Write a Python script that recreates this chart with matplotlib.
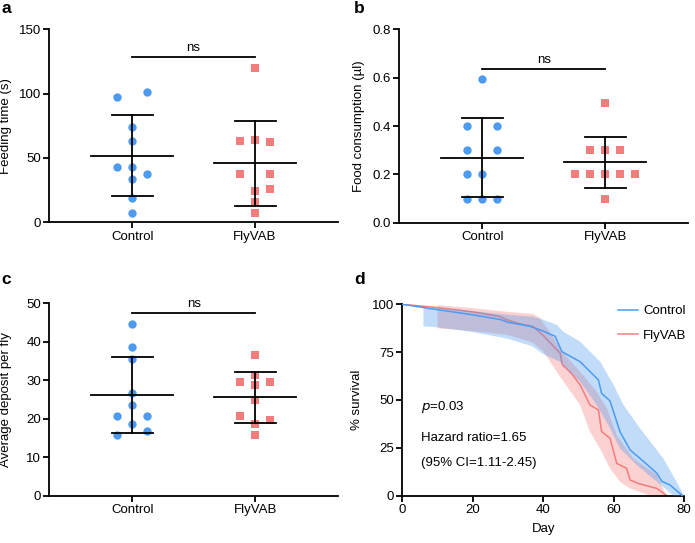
import numpy as np
import matplotlib
matplotlib.use("Agg")
import matplotlib.pyplot as plt
from matplotlib.lines import Line2D

plt.rcParams['font.family'] = ['Liberation Sans', 'DejaVu Sans']
FS = 9.5
plt.rcParams['font.size'] = FS

# ---------------- data ----------------
groups = ["Control", "FlyVAB"]

# panel a: feeding time (s)
a_ctrl = [101, 97.2, 73.8, 63.2, 42.7, 42.7, 37.6, 33.4, 18.7, 7.0]
a_ctrl_slot = [1, -1, 0, 0, -1, 0, 1, 0, 0, 0]
a_fly = [119.7, 64, 63.2, 62.2, 37.6, 37.6, 25.6, 24.6, 15.8, 7.0]
a_fly_slot = [0, 0, -1, 1, -1, 1, 1, 0, 0, 0]
a_ticks = [0, 50, 100, 150]
a_ns = 128.7

# panel b: food consumption (ul)
b_ctrl = [0.593, 0.4, 0.4, 0.3, 0.3, 0.2, 0.2, 0.1, 0.1, 0.1]
b_ctrl_slot = [0, -1, 1, -1, 1, -1, 0, -1, 0, 1]
b_fly = [0.494, 0.3, 0.3, 0.3, 0.2, 0.2, 0.2, 0.2, 0.2, 0.1]
b_fly_slot = [0, -1, 0, 1, -2, -1, 0, 1, 2, 0]
b_ticks = [0.0, 0.2, 0.4, 0.6, 0.8]
b_ns = 0.635

# panel c: average deposit per fly
c_ctrl = [44.6, 38.6, 35.6, 26.6, 23.7, 20.8, 20.8, 18.8, 15.8, 16.8]
c_ctrl_slot = [0, 0, 0, 0, 0, -1, 1, 0, -1, 1]
c_fly = [36.5, 31.5, 29.6, 29.6, 28.7, 24.8, 20.7, 19.8, 18.8, 15.8]
c_fly_slot = [0, 0, -1, 1, 0, 0, -1, 1, 0, 0]
c_ticks = [0, 10, 20, 30, 40, 50]
c_ns = 47.4

# panel d: survival curves
ctrl_day = [0, 6, 10, 20, 28, 30, 36.3, 40, 43.4, 45.3, 50.5, 55.7, 56.6, 59, 61.8, 64.7, 70, 72.3, 73.7, 76, 79.6]
ctrl_surv = [100, 98.3, 97.2, 94.5, 92, 90.6, 88.5, 86, 83.3, 75.3, 70, 60.5, 53.5, 49.5, 33.5, 23.9, 15.5, 11.7, 7.5, 5.6, 0]
fly_day = [0, 10, 20, 27.8, 29.7, 33, 37.2, 40.1, 43.5, 44.8, 45.5, 48, 50.5, 53.3, 55.7, 56.6, 59, 60.9, 63.7, 64.7, 67, 72.3, 75.1]
fly_surv = [100, 98.3, 96, 93.6, 91.9, 90, 88.3, 83.5, 77, 74.5, 68.3, 64, 57.9, 47.4, 44.8, 33.5, 30, 16.9, 14.3, 8.2, 6.4, 3.8, 0]

ctrl_up_day = [6, 10, 20, 30, 37, 40, 43.9, 45.7, 50.5, 52.4, 56.2, 60, 62.8, 67.5, 74.1, 77.9, 80]
ctrl_up = [98.5, 98, 96.5, 94.5, 93.5, 92, 89.2, 85.7, 80.5, 77, 70, 57.9, 47.4, 35.2, 19.5, 7.3, 0]
ctrl_lo_day = [6, 10, 20, 30, 37, 40, 44.8, 50.5, 55.2, 59, 61.8, 66.6, 72.3, 77]
ctrl_lo = [88.5, 88, 85.5, 82, 78, 74, 70, 59.6, 47.4, 35.2, 24.8, 16, 7.3, 0]

fly_up_day = [10, 20, 30, 37, 39, 41, 45.3, 50.5, 55.2, 58.1, 60.9, 65.6, 72.3, 75]
fly_up = [99.5, 98, 96, 95, 93, 88, 75.3, 64.8, 54.4, 45.7, 31.7, 19.5, 10.8, 0]
fly_lo_day = [10, 20, 30, 37, 40.1, 44.8, 50.5, 53.3, 56.1, 59, 61.8, 64.7, 70.4]
fly_lo = [87.5, 86, 84, 80, 75.3, 62.2, 47.4, 33.5, 24.8, 14.3, 7.3, 3.8, 0]

d_xticks = [0, 20, 40, 60, 80]
d_yticks = [0, 25, 50, 75, 100]

# ---------------- style ----------------
BLUE = "#4C9BF0"
RED = "#F47C7C"
W, H = 695, 543
LW = 1.3
SLOT = 0.122

fig = plt.figure(figsize=(W / 100, H / 100), dpi=100)


def rect(l, t, r, b):
    return [l / W, 1 - b / H, (r - l) / W, (b - t) / H]


def style(ax):
    for s in ("top", "right"):
        ax.spines[s].set_visible(False)
    for s in ("left", "bottom"):
        ax.spines[s].set_linewidth(LW)
    ax.tick_params(width=LW, length=4, labelsize=FS, pad=2)


def dot_panel(ax, ctrl, cslot, fly, fslot, ticks, ns_y, ylabel, fmt, lab_x):
    style(ax)
    xc = 0 + SLOT * np.array(cslot)
    xf = 1 + SLOT * np.array(fslot)
    ax.scatter(xc, ctrl, s=36, marker="o", color=BLUE, linewidths=0, zorder=2)
    ax.scatter(xf, fly, s=28, marker="s", color=RED, linewidths=0, zorder=2)
    for i, vals in enumerate([ctrl, fly]):
        m = np.mean(vals)
        sd = np.std(vals, ddof=1)
        ax.plot([i - 0.333, i + 0.333], [m, m], color="black", lw=LW, zorder=3)
        ax.plot([i - 0.167, i + 0.167], [m + sd, m + sd], color="black", lw=LW, zorder=3)
        ax.plot([i - 0.167, i + 0.167], [m - sd, m - sd], color="black", lw=LW, zorder=3)
        ax.plot([i, i], [m - sd, m + sd], color="black", lw=LW, zorder=3)
    ax.plot([0, 1], [ns_y, ns_y], color="black", lw=LW)
    ax.text(0.5, ns_y + (ticks[-1] - ticks[0]) * 0.015, "ns", ha="center", va="bottom", fontsize=FS)
    ax.set_xlim(-0.676, 1.676)
    ax.set_ylim(ticks[0], ticks[-1])
    ax.set_yticks(ticks)
    ax.set_yticklabels([fmt.format(t) for t in ticks])
    ax.set_xticks([0, 1])
    ax.set_xticklabels(groups)
    ax.set_ylabel(ylabel, fontsize=FS)
    ax.yaxis.set_label_coords(lab_x, 0.5)


ax_a = fig.add_axes(rect(49.3, 29.3, 338, 222.3))
dot_panel(ax_a, a_ctrl, a_ctrl_slot, a_fly, a_fly_slot, a_ticks, a_ns, "Feeding time (s)", "{:g}", -0.129)
ax_b = fig.add_axes(rect(399.3, 29.3, 688.3, 222.7))
dot_panel(ax_b, b_ctrl, b_ctrl_slot, b_fly, b_fly_slot, b_ticks, b_ns, "Food consumption (\u00b5l)", "{:.1f}", -0.119)
ax_c = fig.add_axes(rect(49.3, 303.3, 338.3, 496))
dot_panel(ax_c, c_ctrl, c_ctrl_slot, c_fly, c_fly_slot, c_ticks, c_ns, "Average deposit per fly", "{:g}", -0.129)

# panel d
ax_d = fig.add_axes(rect(402.3, 304.3, 684, 495.7))
style(ax_d)
ax_d.fill(list(fly_up_day) + list(fly_lo_day)[::-1], list(fly_up) + list(fly_lo)[::-1],
          color=RED, alpha=0.35, lw=0, zorder=1)
ax_d.plot(fly_day, fly_surv, color=RED, lw=1.1, zorder=2)
ax_d.fill(list(ctrl_up_day) + list(ctrl_lo_day)[::-1], list(ctrl_up) + list(ctrl_lo)[::-1],
          color=BLUE, alpha=0.35, lw=0, zorder=3)
ax_d.plot(ctrl_day, ctrl_surv, color=BLUE, lw=1.1, zorder=4)
ax_d.set_xlim(0, 80)
ax_d.set_ylim(0, 100)
ax_d.set_xticks(d_xticks)
ax_d.set_yticks(d_yticks)
ax_d.set_xlabel("Day", fontsize=FS, labelpad=5)
ax_d.set_ylabel("% survival", fontsize=FS)
ax_d.yaxis.set_label_coords(-0.14, 0.5)
handles = [Line2D([], [], color=BLUE, lw=1.1), Line2D([], [], color=RED, lw=1.1)]
ax_d.legend(handles, groups, loc="upper left", bbox_to_anchor=(0.766, 0.995), frameon=False,
            borderpad=0, borderaxespad=0, handlelength=1.5, handletextpad=0.4, labelspacing=0.9,
            fontsize=FS)
ax_d.text(5.3, 46.5, r"$\it{p}$=0.03", fontsize=FS, va="center", ha="left")
ax_d.text(5.3, 30, "Hazard ratio=1.65", fontsize=FS, va="center", ha="left")
ax_d.text(5.3, 17, "(95% CI=1.11-2.45)", fontsize=FS, va="center", ha="left")

# panel letters
for lbl, x, y in [("a", 1, 13), ("b", 354, 13), ("c", 1, 284), ("d", 354, 284)]:
    fig.text(x / W, 1 - y / H, lbl, fontsize=12.5, fontweight="bold", ha="left", va="baseline")

fig.savefig("out.png", dpi=100)
